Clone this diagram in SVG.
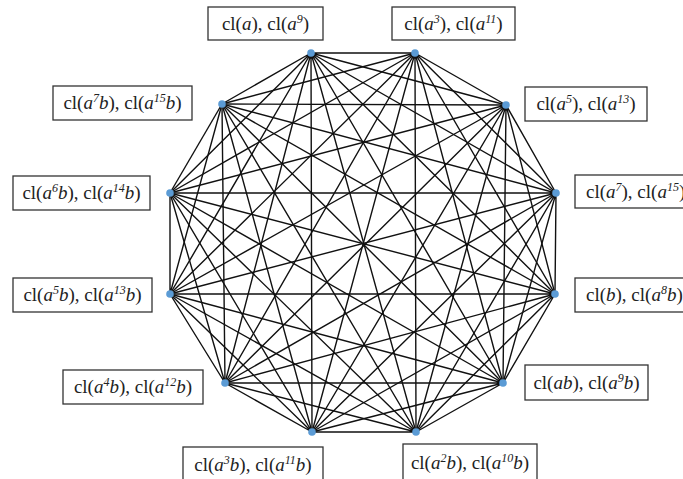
<svg xmlns="http://www.w3.org/2000/svg" width="683" height="479" viewBox="0 0 683 479">
<style>
.bx{fill:#fff;stroke:#333;stroke-width:1.3}
.t{font-family:"Liberation Serif",serif;font-size:19px;fill:#222}
.m{text-anchor:middle}
.i{font-style:italic}
.s{font-size:12px;font-style:italic}
.e{fill:none;stroke:#111;stroke-width:1.4}
.v{fill:#5B9BD5}
</style>
<rect width="683" height="479" fill="#fff"/>
<g id="connectors">
<path class="e" d="M311 53L415 53M311 53L506 105M311 53L556 193M311 53L555 294M311 53L503 383M311 53L416 432M311 53L312 432M311 53L225 383M311 53L170 294M311 53L170 193M311 53L222 104"/>
<path class="e" d="M415 53L506 105M415 53L556 193M415 53L555 294M415 53L503 383M415 53L416 432M415 53L312 432M415 53L225 383M415 53L170 294M415 53L170 193M415 53L222 104"/>
<path class="e" d="M506 105L556 193M506 105L555 294M506 105L503 383M506 105L416 432M506 105L312 432M506 105L225 383M506 105L170 294M506 105L170 193M506 105L222 104"/>
<path class="e" d="M556 193L555 294M556 193L503 383M556 193L416 432M556 193L312 432M556 193L225 383M556 193L170 294M556 193L170 193M556 193L222 104"/>
<path class="e" d="M555 294L503 383M555 294L416 432M555 294L312 432M555 294L225 383M555 294L170 294M555 294L170 193M555 294L222 104"/>
<path class="e" d="M503 383L416 432M503 383L312 432M503 383L225 383M503 383L170 294M503 383L170 193M503 383L222 104"/>
<path class="e" d="M416 432L312 432M416 432L225 383M416 432L170 294M416 432L170 193M416 432L222 104"/>
<path class="e" d="M312 432L225 383M312 432L170 294M312 432L170 193M312 432L222 104"/>
<path class="e" d="M225 383L170 294M225 383L170 193M225 383L222 104"/>
<path class="e" d="M170 294L170 193M170 294L222 104"/>
<path class="e" d="M170 193L222 104"/>
</g>
<g id="n1"><circle class="v" cx="311" cy="53" r="3.8"/><rect class="bx" x="208" y="7" width="115" height="33"/><text class="t m" x="265.5" y="29.5">cl(<tspan class="i">a</tspan>), cl(<tspan class="i">a</tspan><tspan class="s" dy="-7">9</tspan><tspan dy="7">)</tspan></text></g>
<g id="n2"><circle class="v" cx="415" cy="53" r="3.8"/><rect class="bx" x="392" y="7" width="123" height="33"/><text class="t m" x="453.5" y="29.5">cl(<tspan class="i">a</tspan><tspan class="s" dy="-7">3</tspan><tspan dy="7">), cl(</tspan><tspan class="i">a</tspan><tspan class="s" dy="-7">11</tspan><tspan dy="7">)</tspan></text></g>
<g id="n3"><circle class="v" cx="506" cy="105" r="3.8"/><rect class="bx" x="525" y="87" width="122" height="34"/><text class="t m" x="586" y="109.5">cl(<tspan class="i">a</tspan><tspan class="s" dy="-7">5</tspan><tspan dy="7">), cl(</tspan><tspan class="i">a</tspan><tspan class="s" dy="-7">13</tspan><tspan dy="7">)</tspan></text></g>
<g id="n4"><circle class="v" cx="556" cy="193" r="3.8"/><rect class="bx" x="575" y="175" width="120" height="33"/><text class="t" x="586" y="197.5">cl(<tspan class="i">a</tspan><tspan class="s" dy="-7">7</tspan><tspan dy="7">), cl(</tspan><tspan class="i">a</tspan><tspan class="s" dy="-7">15</tspan><tspan dy="7">)</tspan></text></g>
<g id="n5"><circle class="v" cx="555" cy="294" r="3.8"/><rect class="bx" x="575" y="278" width="120" height="34"/><text class="t" x="586" y="300.5">cl(<tspan class="i">b</tspan>), cl(<tspan class="i">a</tspan><tspan class="s" dy="-7">8</tspan><tspan class="i" dy="7">b</tspan>)</text></g>
<g id="n6"><circle class="v" cx="503" cy="383" r="3.8"/><rect class="bx" x="525" y="365" width="123" height="35"/><text class="t m" x="586.5" y="388.5">cl(<tspan class="i">ab</tspan>), cl(<tspan class="i">a</tspan><tspan class="s" dy="-7">9</tspan><tspan class="i" dy="7">b</tspan>)</text></g>
<g id="n7"><circle class="v" cx="416" cy="432" r="3.8"/><rect class="bx" x="403" y="444" width="134" height="42"/><text class="t m" x="470" y="468.5">cl(<tspan class="i">a</tspan><tspan class="s" dy="-7">2</tspan><tspan class="i" dy="7">b</tspan>), cl(<tspan class="i">a</tspan><tspan class="s" dy="-7">10</tspan><tspan class="i" dy="7">b</tspan>)</text></g>
<g id="n8"><circle class="v" cx="312" cy="432" r="3.8"/><rect class="bx" x="183" y="447" width="140" height="42"/><text class="t m" x="253" y="470.5">cl(<tspan class="i">a</tspan><tspan class="s" dy="-7">3</tspan><tspan class="i" dy="7">b</tspan>), cl(<tspan class="i">a</tspan><tspan class="s" dy="-7">11</tspan><tspan class="i" dy="7">b</tspan>)</text></g>
<g id="n9"><circle class="v" cx="225" cy="383" r="3.8"/><rect class="bx" x="63" y="370" width="140" height="34"/><text class="t m" x="133" y="392.5">cl(<tspan class="i">a</tspan><tspan class="s" dy="-7">4</tspan><tspan class="i" dy="7">b</tspan>), cl(<tspan class="i">a</tspan><tspan class="s" dy="-7">12</tspan><tspan class="i" dy="7">b</tspan>)</text></g>
<g id="n10"><circle class="v" cx="170" cy="294" r="3.8"/><rect class="bx" x="13" y="278" width="139" height="34"/><text class="t m" x="82.5" y="300.5">cl(<tspan class="i">a</tspan><tspan class="s" dy="-7">5</tspan><tspan class="i" dy="7">b</tspan>), cl(<tspan class="i">a</tspan><tspan class="s" dy="-7">13</tspan><tspan class="i" dy="7">b</tspan>)</text></g>
<g id="n11"><circle class="v" cx="170" cy="193" r="3.8"/><rect class="bx" x="13" y="176" width="137" height="34"/><text class="t m" x="81.5" y="198.5">cl(<tspan class="i">a</tspan><tspan class="s" dy="-7">6</tspan><tspan class="i" dy="7">b</tspan>), cl(<tspan class="i">a</tspan><tspan class="s" dy="-7">14</tspan><tspan class="i" dy="7">b</tspan>)</text></g>
<g id="n12"><circle class="v" cx="222" cy="104" r="3.8"/><rect class="bx" x="53" y="86" width="139" height="34"/><text class="t m" x="122.5" y="108.5">cl(<tspan class="i">a</tspan><tspan class="s" dy="-7">7</tspan><tspan class="i" dy="7">b</tspan>), cl(<tspan class="i">a</tspan><tspan class="s" dy="-7">15</tspan><tspan class="i" dy="7">b</tspan>)</text></g>
</svg>
